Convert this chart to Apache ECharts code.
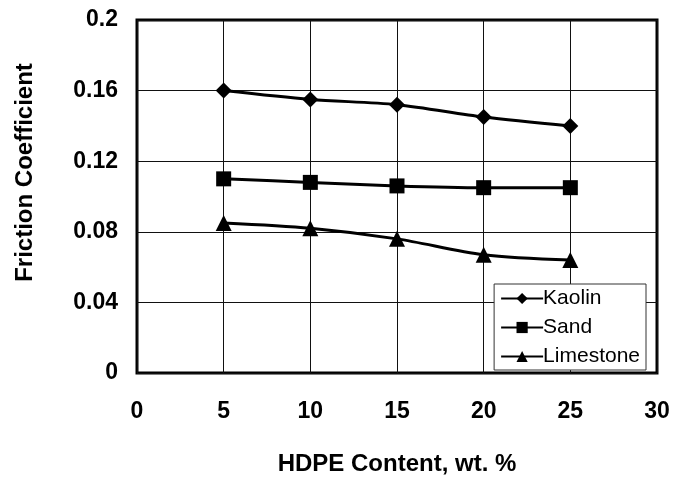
<!DOCTYPE html>
<html>
<head>
<meta charset="utf-8">
<script src="https://cdn.jsdelivr.net/npm/echarts@6/dist/echarts.min.js"></script>
<style>
html,body{margin:0;padding:0;background:#fff;}
#chart{width:683px;height:481px;}
</style>
</head>
<body>
<div id="chart"></div>
<script>
var hdpe = [5, 10, 15, 20, 25];
var kaolin = [0.160, 0.155, 0.152, 0.145, 0.140];
var sand = [0.110, 0.108, 0.106, 0.105, 0.105];
var limestone = [0.085, 0.082, 0.076, 0.067, 0.064];

function pairs(vals) {
	var out = [];
	for (var i = 0; i < hdpe.length; i++) {
		out.push([hdpe[i], vals[i]]);
	}
	return out;
}

var font = 'Liberation Sans, Arial, sans-serif';
var myChart = echarts.init(document.getElementById('chart'));

function mkSeries(name, vals, symbol, size) {
	return {
		name: name,
		type: 'line',
		data: pairs(vals),
		smooth: 0.3,
		symbol: symbol,
		symbolSize: size,
		lineStyle: { color: '#000', width: 3 },
		itemStyle: { color: '#000' },
		animation: false
	};
}

option = {
	backgroundColor: '#fff',
	grid: {
		left: 137, top: 20, right: 26, bottom: 104,
		show: true,
		borderColor: '#000',
		borderWidth: 3
	},
	legend: {
		orient: 'vertical',
		right: 37, bottom: 111,
		backgroundColor: '#fff',
		borderColor: '#333',
		borderWidth: 1,
		padding: [4, 6, 3, 6],
		itemWidth: 42,
		itemHeight: 14,
		itemGap: 8,
		textStyle: { fontFamily: font, fontSize: 21, color: '#000', padding: [0, 0, 0, -5] },
		data: ['Kaolin', 'Sand', 'Limestone']
	},
	xAxis: {
		type: 'value',
		min: 0, max: 30, interval: 5,
		name: 'HDPE Content, wt. %',
		nameLocation: 'middle',
		nameGap: 79,
		nameTextStyle: { fontFamily: font, fontSize: 24, fontWeight: 'bold', color: '#000' },
		axisLine: { show: false },
		axisTick: { show: false },
		axisLabel: { fontFamily: font, fontSize: 23, fontWeight: 'bold', color: '#000', margin: 27 },
		splitLine: { lineStyle: { color: '#111', width: 1 } }
	},
	yAxis: {
		type: 'value',
		min: 0, max: 0.2, interval: 0.04,
		name: 'Friction Coefficient',
		nameLocation: 'middle',
		nameGap: 100,
		nameTextStyle: {
			fontFamily: font, fontSize: 24, fontWeight: 'bold', color: '#000',
			padding: [0, 0, 0, 48]
		},
		axisLine: { show: false },
		axisTick: { show: false },
		axisLabel: {
			fontFamily: font, fontSize: 23, fontWeight: 'bold', color: '#000', margin: 19,
			formatter: function(v) { return v === 0 ? '0' : String(+v.toFixed(2)); }
		},
		splitLine: { lineStyle: { color: '#111', width: 1 } }
	},
	series: [
		mkSeries('Kaolin', kaolin, 'diamond', 16),
		mkSeries('Sand', sand, 'rect', 15),
		mkSeries('Limestone', limestone, 'triangle', 16)
	]
};
myChart.setOption(option);
</script>
</body>
</html>
